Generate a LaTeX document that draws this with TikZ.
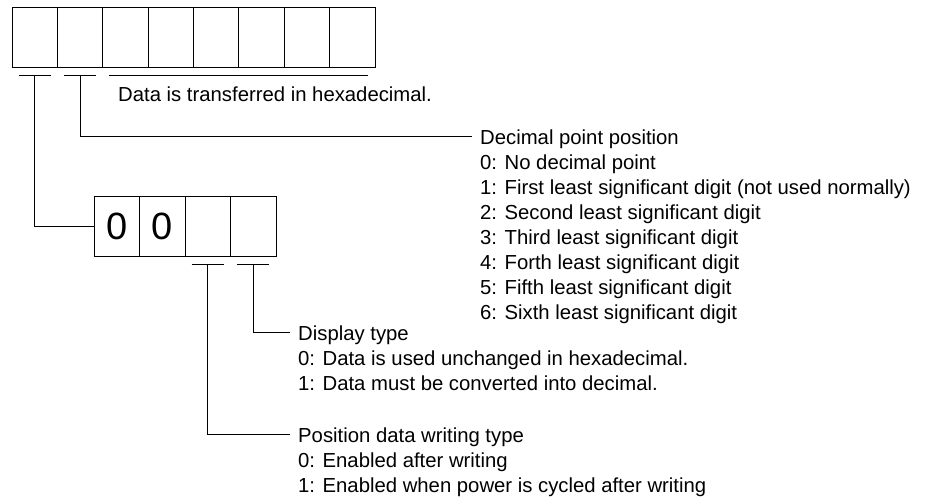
\documentclass[tikz,border=0pt]{standalone}
\usepackage{fontspec}
\setmainfont{Liberation Sans}
\usetikzlibrary{positioning,calc}
\newcommand{\txt}{\fontsize{20.3}{25}\selectfont}

\begin{document}
\begin{tikzpicture}[
    x=1pt, y=-1pt,
    cell/.style={draw, line width=0.8pt, minimum width=45.4pt, minimum height=60pt, inner sep=0pt, font=\fontsize{38}{38}\selectfont},
    tick/.style={line width=0.8pt},
    wire/.style={line width=0.8pt},
    head/.style={anchor=west, inner xsep=8pt, inner ysep=0pt, text height=16pt, text depth=0pt, font=\txt},
    item/.style={anchor=base west, inner sep=0pt, font=\txt}
]
    \useasboundingbox (0,0) rectangle (933,500);

    % eight data digits
    \foreach \i in {1,...,8}
        \node[cell] (t\i) at ({12+45.375*(\i-0.5)},37) {};

    % display type digits
    \foreach \d [count=\i] in {0,0,{},{}}
        \node[cell] (s\i) at ({94+45.5*(\i-0.5)},226) {\d};

    % marks under the digits
    \draw[tick] ($(t1.south west)+(7,8)$) -- ($(t1.south east)+(-7,8)$);
    \draw[tick] ($(t2.south west)+(7,8)$) -- ($(t2.south east)+(-7,8)$);
    \draw[tick] ($(t3.south west)+(7,8)$) -- ($(t8.south east)+(-7,8)$);
    \draw[tick] ($(s3.south west)+(7,8)$) -- ($(s3.south east)+(-7,8)$);
    \draw[tick] ($(s4.south west)+(7,8)$) -- ($(s4.south east)+(-7,8)$);
    \coordinate (m1) at ($(t1.south)+(0,8)$);
    \coordinate (m2) at ($(t2.south)+(0,8)$);
    \coordinate (m3) at ($(s3.south)+(0,8)$);
    \coordinate (m4) at ($(s4.south)+(0,8)$);

    \node[item] (hex) at (118,102) {Data is transferred in hexadecimal.};

    % decimal point
    \node[head] (dp) at (472,136) {Decimal point position};
    \foreach \t [count=\k] in {0: No decimal point,
        1: First least significant digit (not used normally),
        2: Second least significant digit,
        3: Third least significant digit,
        4: Forth least significant digit,
        5: Fifth least significant digit,
        6: Sixth least significant digit}
        \node[item] (dp\k) at (480,{144+25*\k}) {\t};

    % display type
    \node[head] (disp) at (290,332) {Display type};
    \node[item] (disp1) at (298,365) {0: Data is used unchanged in hexadecimal.};
    \node[item] (disp2) at (298,390) {1: Data must be converted into decimal.};

    % position data writing type
    \node[head] (pos) at (290,434) {Position data writing type};
    \node[item] (pos1) at (298,467) {0: Enabled after writing};
    \node[item] (pos2) at (298,492) {1: Enabled when power is cycled after writing};

    \draw[wire] (m1) |- (s1.west);
    \draw[wire] (m2) |- (dp.west);
    \draw[wire] (m4) |- (disp.west);
    \draw[wire] (m3) |- (pos.west);
\end{tikzpicture}
\end{document}
